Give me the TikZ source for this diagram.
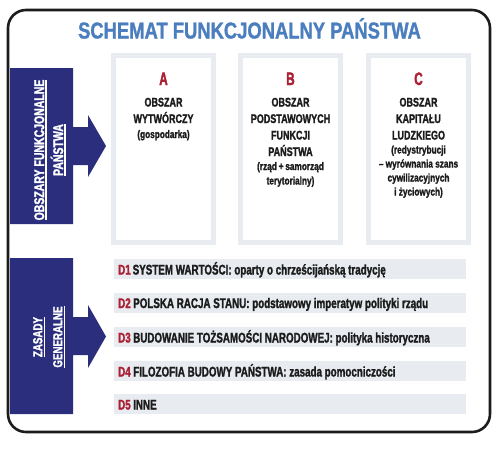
\documentclass[tikz,border=0pt]{standalone}
\usepackage{fontspec}
\newfontfamily\bodyf[FakeStretch=0.75, FakeBold=1.6, UprightFont={* Bold}]{Liberation Sans}
\newfontfamily\boxf[FakeStretch=0.72, FakeBold=1.6, UprightFont={* Bold}]{Liberation Sans}
\newfontfamily\rowf[FakeStretch=0.7, FakeBold=1.6, UprightFont={* Bold}]{Liberation Sans}
\newfontfamily\letf[FakeStretch=0.65, FakeBold=1.8, UprightFont={* Bold}]{Liberation Sans}
\newfontfamily\titlef[FakeStretch=0.8, FakeBold=1.2, UprightFont={* Bold}]{Liberation Sans}
\definecolor{navy}{RGB}{42,46,124}
\definecolor{tblue}{RGB}{74,126,190}
\definecolor{dred}{RGB}{172,32,52}
\definecolor{lgray}{RGB}{232,236,241}
\definecolor{ink}{RGB}{28,28,28}
\newsavebox\ulbox
\newcommand\myul[1]{\sbox\ulbox{#1}\rlap{\rule[-2.6pt]{\wd\ulbox}{1.3pt}}\usebox\ulbox}
\begin{document}
\begin{tikzpicture}[x=1pt,y=-1pt,
  colbox/.style={draw=lgray, line width=5pt, fill=white, minimum width=100pt, minimum height=187pt, inner sep=0pt},
  rowbar/.style={fill=lgray, minimum width=352pt, minimum height=20pt, inner sep=0pt},
  letterln/.style={anchor=base, inner sep=0pt, text=dred, font=\letf\fontsize{18}{20}\selectfont},
  boldln/.style={anchor=base, inner sep=0pt, text=ink, font=\boxf\fontsize{12.5}{14}\selectfont},
  smallln/.style={anchor=base, inner sep=0pt, text=ink, font=\bodyf\fontsize{11}{13}\selectfont},
  rowtxt/.style={anchor=base west, inner sep=0pt, text=ink, font=\rowf\fontsize{14}{16}\selectfont},
  sidetxt/.style={rotate=90, align=center, text=white, inner sep=0pt},
  arrowfill/.style={fill=navy}
]
\useasboundingbox (0,0) rectangle (500,448);
\fill[white] (0,0) rectangle (500,448);

% outer frame
\draw[line width=2.6pt, ink, rounded corners=18pt] (8,10) rectangle (490,432);

% title
\node[anchor=base, inner sep=0pt, text=tblue, font=\titlef\fontsize{23}{25}\selectfont] (title) at (249.5,38.5) {SCHEMAT FUNKCJONALNY PAŃSTWA};

% side arrows
\fill[arrowfill] (10,68) -- (73,68) -- (73,127) -- (88,127) -- (88,115) -- (106,146) -- (88,177) -- (88,165) -- (73,165) -- (73,224) -- (10,224) -- cycle;
\node[sidetxt, font=\bodyf\fontsize{14}{19}\selectfont] (side1) at (50,150) {\myul{OBSZARY FUNKCJONALNE}\\\myul{PAŃSTWA}};

\fill[arrowfill] (10,258) -- (73,258) -- (73,317) -- (88,317) -- (88,305) -- (106,336.5) -- (88,368) -- (88,355) -- (73,355) -- (73,414) -- (10,414) -- cycle;
\node[sidetxt, font=\bodyf\fontsize{13}{20}\selectfont] (side2) at (49,337) {\myul{ZASADY}\\\myul{GENERALNE}};

% column boxes
\node[colbox] (boxA) at (163.5,149) {};
\node[colbox] (boxB) at (290.5,148.5) {};
\node[colbox] (boxC) at (418.5,149) {};

\node[letterln] (la) at (163.5,85) {A};
\node[letterln] (lb) at (290.5,85) {B};
\node[letterln] (lc) at (418.5,85) {C};

% box A text
\node[boldln] (a1) at (163.5,106.5) {OBSZAR};
\node[boldln] (a2) at (163.5,123) {WYTWÓRCZY};
\node[smallln] (a3) at (163.5,138) {(gospodarka)};

% box B text
\node[boldln] (b1) at (290.5,106.5) {OBSZAR};
\node[boldln] (b2) at (290.5,123) {PODSTAWOWYCH};
\node[boldln] (b3) at (290.5,139.5) {FUNKCJI};
\node[boldln] (b4) at (290.5,156) {PAŃSTWA};
\node[smallln] (b5) at (290.5,170) {(rząd\,+\,samorząd};
\node[smallln] (b6) at (290.5,184.5) {terytorialny)};

% box C text
\node[boldln] (c1) at (418.5,106.5) {OBSZAR};
\node[boldln] (c2) at (418.5,123) {KAPITAŁU};
\node[boldln] (c3) at (418.5,139.5) {LUDZKIEGO};
\node[smallln] (c4) at (418.5,153.5) {(redystrybucji};
\node[smallln] (c5) at (418.5,167.5) {– wyrównania szans};
\node[smallln] (c6) at (418.5,181.5) {cywilizacyjnych};
\node[smallln] (c7) at (418.5,195.5) {i życiowych)};

% rows
\node[rowbar] (d1) at (290,269) {};
\node[rowbar] (d2) at (290,302.5) {};
\node[rowbar] (d3) at (290,337) {};
\node[rowbar] (d4) at (290,371) {};
\node[rowbar] (d5) at (290,404) {};

\node[rowtxt] (t1) at (118,274.5) {\textcolor{dred}{D1}\hspace{2pt}SYSTEM WARTOŚCI: oparty o chrześcijańską tradycję};
\node[rowtxt] (t2) at (118,308) {\textcolor{dred}{D2}\hspace{2.5pt}POLSKA RACJA STANU: podstawowy imperatyw polityki rządu};
\node[rowtxt] (t3) at (118,342.5) {\textcolor{dred}{D3}\hspace{2.5pt}BUDOWANIE TOŻSAMOŚCI NARODOWEJ: polityka historyczna};
\node[rowtxt] (t4) at (118,376.5) {\textcolor{dred}{D4}\hspace{2.5pt}FILOZOFIA BUDOWY PAŃSTWA: zasada pomocniczości};
\node[rowtxt] (t5) at (118,409.5) {\textcolor{dred}{D5}\hspace{2.5pt}INNE};
\end{tikzpicture}
\end{document}
